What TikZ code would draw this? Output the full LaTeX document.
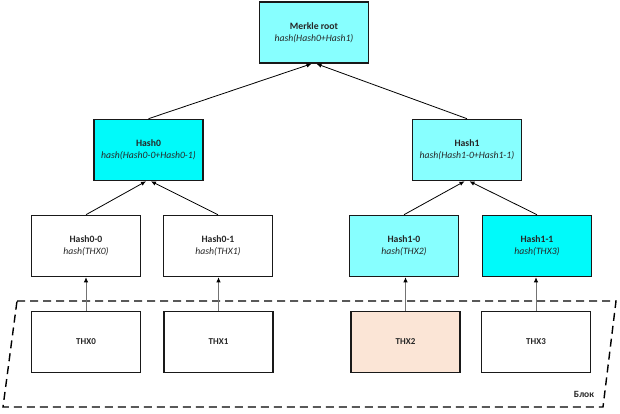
\documentclass[tikz,border=0pt]{standalone}
\usepackage{fontspec}
\setmainfont{Carlito}
\usetikzlibrary{arrows.meta}

\definecolor{cyanfull}{RGB}{0,250,250}
\definecolor{cyanlight}{RGB}{135,255,255}
\definecolor{peach}{RGB}{251,229,214}

\tikzset{
    hashbox/.style={draw=black!90, line width=1.6pt, minimum width=109pt, minimum height=61pt,
        inner sep=0pt, align=center, text=black!85, font=\fontsize{9.7}{12}\selectfont},
    txbox/.style={hashbox, font=\fontsize{9}{10}\selectfont\bfseries},
    hashlink/.style={line width=0.8pt, -{Latex[length=5pt,width=4.5pt]}},
    txlink/.style={line width=0.7pt, draw=black!55, -{Latex[length=5pt,width=4.5pt,color=black]}},
    blockline/.style={line width=1.4pt, dash pattern=on 8pt off 5pt}
}

\begin{document}
\begin{tikzpicture}[x=1pt, y=-1pt]
    \useasboundingbox (0,0) rectangle (620,413);

    \node[hashbox, fill=cyanlight] (root) at (314,32.5) {\textbf{Merkle root}\\\textit{hash(Hash0+Hash1)}};
    \node[hashbox, fill=cyanfull] (h0) at (148.5,150) {\textbf{Hash0}\\\textit{hash(Hash0-0+Hash0-1)}};
    \node[hashbox, fill=cyanlight] (h1) at (467,150) {\textbf{Hash1}\\\textit{hash(Hash1-0+Hash1-1)}};
    \node[hashbox, fill=white] (h00) at (86,246) {\textbf{Hash0-0}\\\textit{hash(THX0)}};
    \node[hashbox, fill=white] (h01) at (218,246) {\textbf{Hash0-1}\\\textit{hash(THX1)}};
    \node[hashbox, fill=cyanlight] (h10) at (404,246) {\textbf{Hash1-0}\\\textit{hash(THX2)}};
    \node[hashbox, fill=cyanfull] (h11) at (537,246) {\textbf{Hash1-1}\\\textit{hash(THX3)}};
    \node[txbox, fill=white] (t0) at (86,342) {THX0};
    \node[txbox, fill=white] (t1) at (218.5,342) {THX1};
    \node[txbox, fill=peach] (t2) at (405.5,342) {THX2};
    \node[txbox, fill=white] (t3) at (536,342) {THX3};

    \coordinate (b1) at (17,301);
    \coordinate (b2) at (616,301);
    \coordinate (b3) at (603,407);
    \coordinate (b4) at (3,407);
    \draw[blockline] (b1) -- (b2) -- (b3) -- (b4) -- cycle;
    \node[font=\fontsize{9.5}{11}\selectfont\bfseries, text=black!85] (blk) at (584,394) {Блок};

    \draw[hashlink] (h0.north) -- ([xshift=-2.5pt]root.south);
    \draw[hashlink] (h1.north) -- ([xshift=2.5pt]root.south);
    \draw[hashlink] (h00.north) -- ([xshift=-2.5pt]h0.south);
    \draw[hashlink] (h01.north) -- ([xshift=2.5pt]h0.south);
    \draw[hashlink] (h10.north) -- ([xshift=-2.5pt]h1.south);
    \draw[hashlink] (h11.north) -- ([xshift=2.5pt]h1.south);
    \draw[txlink] (t0.north) -- (t0.north |- h00.south);
    \draw[txlink] (t1.north) -- (t1.north |- h01.south);
    \draw[txlink] (t2.north) -- (t2.north |- h10.south);
    \draw[txlink] (t3.north) -- (t3.north |- h11.south);
\end{tikzpicture}
\end{document}
